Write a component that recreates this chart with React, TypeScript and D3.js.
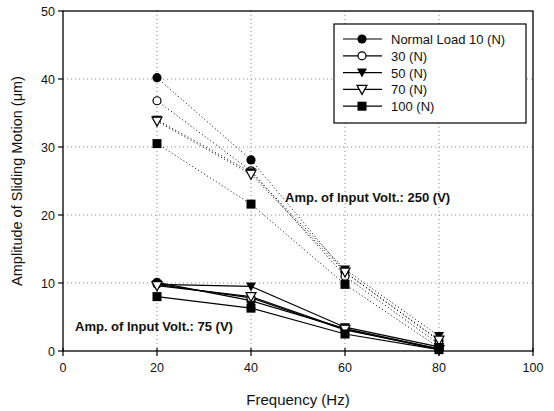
import React from "react";
import * as d3 from "d3";

const freqs = [20, 40, 60, 80];
const loads = ["Normal Load 10 (N)", "30 (N)", "50 (N)", "70 (N)", "100 (N)"];
const markers = ["circleFilled", "circleOpen", "triDownFilled", "triDownOpen", "squareFilled"];
const high10 = [40.2, 28.1, 11.6, 1.5];
const high30 = [36.8, 26.5, 11.0, 1.0];
const high50 = [34.0, 26.3, 12.0, 2.2];
const high70 = [33.8, 26.0, 11.6, 1.6];
const high100 = [30.5, 21.6, 9.8, 0.5];
const low10 = [10.1, 7.4, 3.3, 0.3];
const low30 = [9.8, 7.8, 3.1, 0.3];
const low50 = [9.8, 9.5, 3.5, 0.6];
const low70 = [9.6, 8.0, 3.2, 0.2];
const low100 = [8.0, 6.3, 2.5, 0.2];
const highSeries = [high10, high30, high50, high70, high100];
const lowSeries = [low10, low30, low50, low70, low100];
const xTicks = [0, 20, 40, 60, 80, 100];
const yTicks = [0, 10, 20, 30, 40, 50];

const W = 554, H = 411;
const L = 63, R = 533, T = 11, B = 351;
const FONT = "Liberation Sans, Arial, sans-serif";

function Marker({ type, x, y }: { type: string; x: number; y: number }) {
  const r = 4.6;
  if (type === "circleFilled") return <circle cx={x} cy={y} r={r} fill="#000" />;
  if (type === "circleOpen") return <circle cx={x} cy={y} r={r - 0.6} fill="#fff" stroke="#000" strokeWidth={1.2} />;
  const tri = `M${x - 5},${y - 4} L${x + 5},${y - 4} L${x},${y + 5} Z`;
  if (type === "triDownFilled") return <path d={tri} fill="#000" />;
  if (type === "triDownOpen") return <path d={tri} fill="#fff" stroke="#000" strokeWidth={1.2} />;
  return <rect x={x - 4.5} y={y - 4.5} width={9} height={9} fill="#000" />;
}

export default function App() {
  const x = d3.scaleLinear().domain([0, 100]).range([L, R]);
  const y = d3.scaleLinear().domain([0, 50]).range([B, T]);
  const line = d3.line<number>().x((_, i) => x(freqs[i])).y((d) => y(d));

  return (
    <svg width={W} height={H} style={{ position: "absolute", left: 0, top: 0, background: "#fff" }}>
      <rect x={0} y={0} width={W} height={H} fill="#fff" />
      {yTicks.slice(1, -1).map((t) => (
        <line key={"gy" + t} x1={L} x2={R} y1={y(t)} y2={y(t)} stroke="#888" strokeWidth={1} strokeDasharray="1,3" />
      ))}
      {xTicks.slice(1, -1).map((t) => (
        <line key={"gx" + t} x1={x(t)} x2={x(t)} y1={T} y2={B} stroke="#888" strokeWidth={1} strokeDasharray="1,3" />
      ))}
      <rect x={L} y={T} width={R - L} height={B - T} fill="none" stroke="#000" strokeWidth={1.3} />
      {xTicks.map((t) => (
        <g key={"xt" + t}>
          <line x1={x(t)} x2={x(t)} y1={B - 3} y2={B + 5} stroke="#000" strokeWidth={1.2} />
          <text x={x(t)} y={B + 21} textAnchor="middle" fontFamily={FONT} fontSize={12.5} fill="#111">{t}</text>
        </g>
      ))}
      {yTicks.map((t) => (
        <g key={"yt" + t}>
          <line x1={L - 5} x2={L} y1={y(t)} y2={y(t)} stroke="#000" strokeWidth={1.2} />
          <text x={L - 8} y={y(t) + 4.5} textAnchor="end" fontFamily={FONT} fontSize={12.5} fill="#111">{t}</text>
        </g>
      ))}
      <text x={(L + R) / 2} y={405} textAnchor="middle" fontFamily={FONT} fontSize={15} fill="#111">Frequency (Hz)</text>
      <text transform={`translate(22,${(T + B) / 2}) rotate(-90)`} textAnchor="middle" fontFamily={FONT} fontSize={14.5} fill="#111">Amplitude of Sliding Motion (μm)</text>
      {highSeries.map((s, i) => (
        <path key={"hl" + i} d={line(s) || ""} fill="none" stroke="#000" strokeWidth={1} strokeDasharray="1,2.5" />
      ))}
      {lowSeries.map((s, i) => (
        <path key={"ll" + i} d={line(s) || ""} fill="none" stroke="#000" strokeWidth={1.2} />
      ))}
      {highSeries.map((s, i) =>
        s.map((v, j) => <Marker key={`hm${i}-${j}`} type={markers[i]} x={x(freqs[j])} y={y(v)} />)
      )}
      {lowSeries.map((s, i) =>
        s.map((v, j) => <Marker key={`lm${i}-${j}`} type={markers[i]} x={x(freqs[j])} y={y(v)} />)
      )}
      <text x={285} y={202} fontFamily={FONT} fontSize={13} fontWeight="bold" fill="#111">Amp. of Input Volt.: 250 (V)</text>
      <text x={75} y={331} fontFamily={FONT} fontSize={13} fontWeight="bold" fill="#111">Amp. of Input Volt.: 75 (V)</text>
      <rect x={334} y={24} width={192} height={99} fill="#fff" stroke="#000" strokeWidth={1.2} />
      {loads.map((lab, i) => {
        const ly = 39 + i * 16.8;
        return (
          <g key={"lg" + i}>
            <line x1={343} x2={382} y1={ly} y2={ly} stroke="#000" strokeWidth={1.2} />
            <Marker type={markers[i]} x={362} y={ly} />
            <text x={391} y={ly + 5} fontFamily={FONT} fontSize={13} fill="#111">{lab}</text>
          </g>
        );
      })}
    </svg>
  );
}
